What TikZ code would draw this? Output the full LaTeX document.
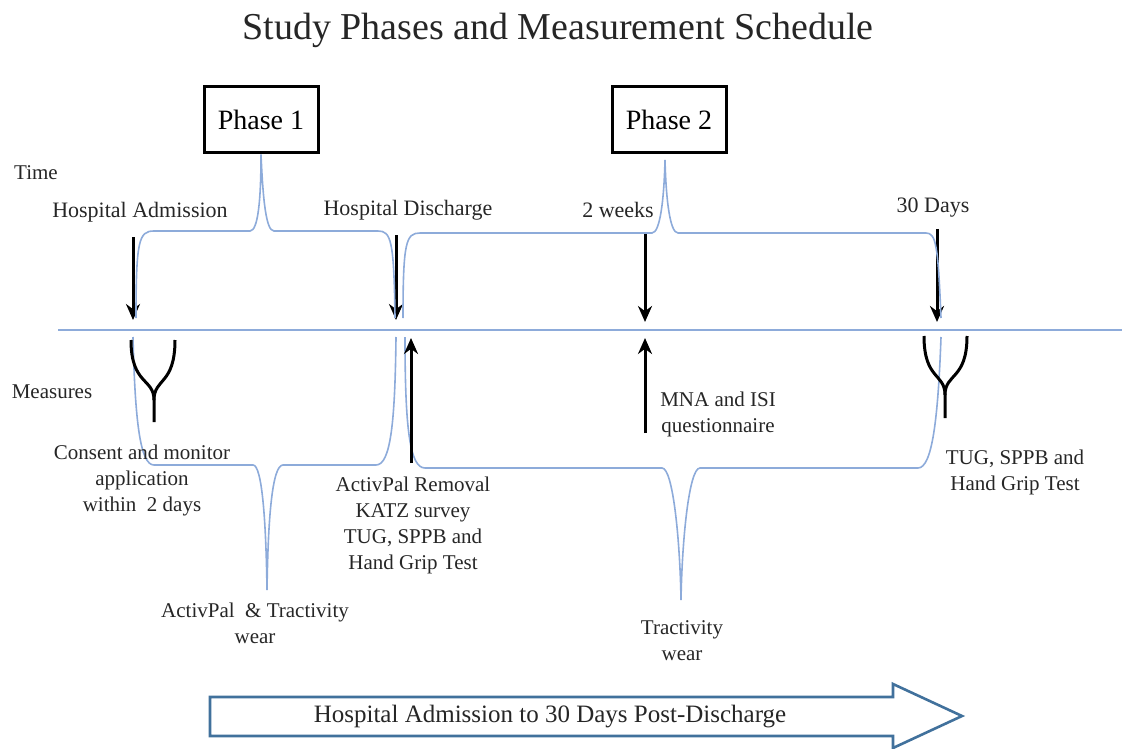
\documentclass[tikz,border=0pt]{standalone}
\usepackage{fontspec}
\setmainfont{Liberation Serif}
\usetikzlibrary{arrows.meta, positioning, calc}
\definecolor{braceblue}{RGB}{141,171,218}
\definecolor{spanblue}{RGB}{65,113,156}

\begin{document}
\begin{tikzpicture}[x=0.5pt, y=-0.5pt,
  phasebox/.style={draw, line width=1.5pt, minimum width=57pt, minimum height=33pt, font=\fontsize{14}{16}\selectfont, inner sep=0pt},
  axislabel/.style={font=\fontsize{10.5}{12}\selectfont, text=black!85},
  eventlabel/.style={font=\fontsize{11}{13}\selectfont, text=black!85},
  measlabel/.style={font=\fontsize{10.5}{13}\selectfont, align=center, text=black!85},
  timearr/.style={-{Stealth[length=8pt, width=7pt]}, line width=1.5pt},
  forkline/.style={line width=1.5pt},
  braceline/.style={braceblue, line width=0.8pt},
  spanarrow/.style={draw=spanblue, line width=1.3pt, fill=white}
]
  \useasboundingbox (0,0) rectangle (1122,748);
  \def\yT{330}
  \node[font=\fontsize{19}{22}\selectfont, text=black!85] (title) at (558,30) {Study Phases and Measurement Schedule};
  \node[phasebox] (ph1) at (261,120) {Phase 1};
  \node[phasebox] (ph2) at (669,120) {Phase 2};
  \node[axislabel] (time) at (36,173) {Time};
  \node[axislabel] (meas) at (52,392) {Measures};
  % time line
  \coordinate (tl0) at (58,\yT);
  \coordinate (tl1) at (1122,\yT);
  \draw[braceblue, line width=1pt] (tl0) -- (tl1);
  \coordinate (tA) at (133,\yT);
  \coordinate (tB) at (396,\yT);
  \coordinate (tC) at (645,\yT);
  \coordinate (tD) at (937,\yT);
  % events above the line
  \node[eventlabel] (adm) at (140,212) {Hospital Admission};
  \node[eventlabel] (dis) at (408,210) {Hospital Discharge};
  \node[eventlabel] (wk2) at (618,210) {2 weeks};
  \node[eventlabel] (d30) at (933,208) {30 Days};
  \draw[timearr, shorten <=4pt, shorten >=5pt] (adm.south -| tA) -- (tA);
  \draw[timearr, shorten <=4pt, shorten >=5pt] (dis.south -| tB) -- (tB);
  \draw[timearr, shorten <=4pt, shorten >=4pt] (wk2.south -| tC) -- (tC);
  \draw[timearr, shorten <=2pt, shorten >=4pt] (d30.south -| tD) -- (tD);
  % phase braces
  \draw[braceline] (136,318) .. controls (136,240) and (139,231) .. (154,231) -- (250,231)
    .. controls (258,231) and (261,200) .. (ph1.south) .. controls (263,200) and (266,231) .. (274,231)
    -- (378,231) .. controls (391,231) and (394,240) .. (395,318);
  \draw[braceline] (403,318) .. controls (403,242) and (406,233) .. (420,233) -- (652,233)
    .. controls (660,233) and (664,200) .. (665,160) .. controls (666,200) and (670,233) .. (678,233)
    -- (926,233) .. controls (936,233) and (938,245) .. (941,318);
  % measures below the line
  \draw[braceline] (133,337) .. controls (135,420) and (140,465) .. (154,465) -- (253,465)
    .. controls (262,465) and (266,520) .. (267,590) .. controls (268,520) and (272,465) .. (283,465)
    -- (376,465) .. controls (391,465) and (395,420) .. (396,337);
  \draw[braceline] (405,337) .. controls (405,430) and (410,468) .. (425,468) -- (662,468)
    .. controls (673,468) and (680,540) .. (681,600) .. controls (682,540) and (689,468) .. (700,468)
    -- (918,468) .. controls (932,468) and (938,420) .. (941,337);
  \draw[forkline] (131,340) .. controls (131,385) and (154,378) .. (154,400) -- (154,422);
  \draw[forkline] (175,340) .. controls (175,385) and (154,378) .. (154,400);
  \draw[forkline] (924,336) .. controls (924,380) and (945,373) .. (945,395) -- (945,418);
  \draw[forkline] (967,336) .. controls (967,380) and (945,373) .. (945,395);
  \coordinate (disup) at (411,463);
  \coordinate (wkup) at (645,433);
  \draw[timearr, shorten >=4pt] (disup) -- (disup |- tl0);
  \draw[timearr, shorten >=4pt] (wkup) -- (wkup |- tl0);
  \node[measlabel] (cons) at (142,480) {Consent and monitor\\application\\within\ \ 2 days};
  \node[measlabel] (act) at (255,623) {ActivPal\ \ \& Tractivity\\wear};
  \node[measlabel] (rem) at (413,525) {ActivPal\ Removal\\KATZ survey\\TUG, SPPB and\\Hand Grip Test};
  \node[measlabel] (mna) at (718,414) {MNA and ISI\\questionnaire};
  \node[measlabel] (tug) at (1015,472) {TUG, SPPB and\\Hand Grip Test};
  \node[measlabel] (tra) at (682,641) {Tractivity\\wear};
  % span arrow
  \draw[spanarrow] (210,697) -- (893,697) -- (893,684) -- (962,716) -- (893,748) -- (893,736) -- (210,736) -- cycle;
  \node[font=\fontsize{12.5}{15}\selectfont, text=black!85] (span) at (550,717) {Hospital Admission to 30 Days Post-Discharge};
\end{tikzpicture}
\end{document}
